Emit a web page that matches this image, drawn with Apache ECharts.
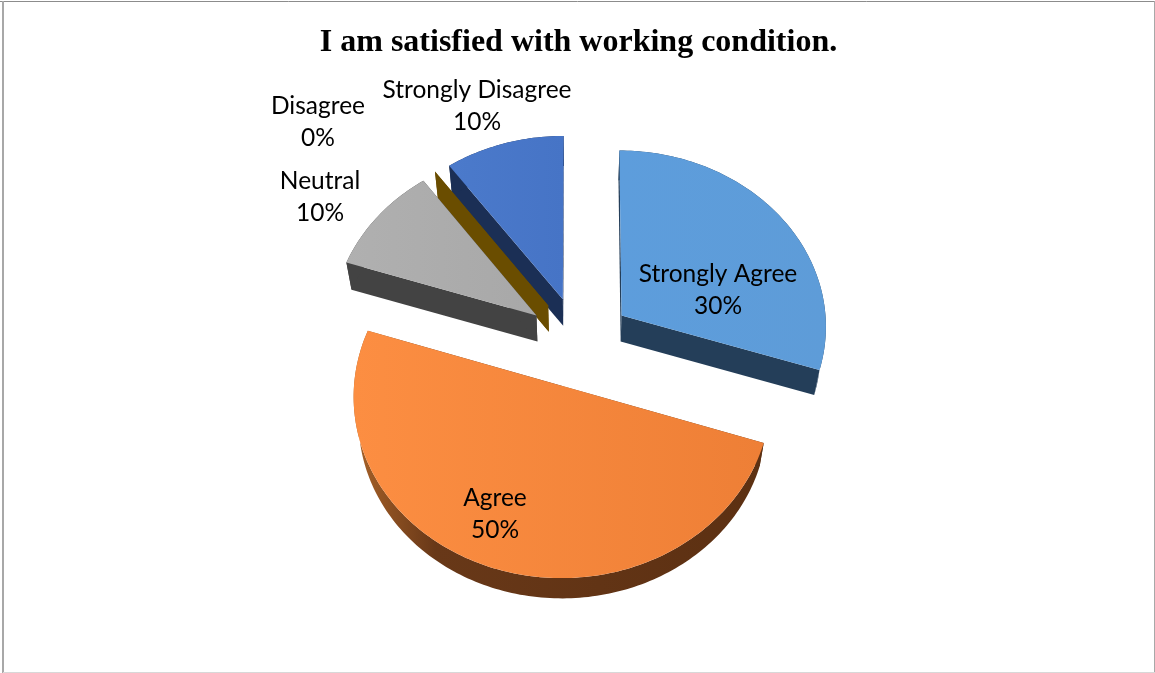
<!DOCTYPE html>
<html>
<head>
<meta charset="utf-8">
<style>html,body{margin:0;padding:0;background:#fff}#c{width:1155px;height:673px}</style>
<script src="https://cdn.jsdelivr.net/npm/echarts@6/dist/echarts.min.js"></script>
</head>
<body>
<div id="c"></div>
<script>
var titleText = 'I am satisfied with working condition.';
var categories = ['Strongly Agree', 'Agree', 'Neutral', 'Disagree', 'Strongly Disagree'];
var values = [30, 50, 10, 0, 10];

// Appearance and projection settings (not data)
var P = {cx: 579, cy: 342, a: 205.6, b: 176.7, k: 0.0545, explode: 0.258, drop: 25.5, lowerScale: 0.978};
var drawRank = [3, 4, 2, 1, 0];
function h(c0, c1) {
  return {type: 'linear', x: 0, y: 0, x2: 1, y2: 0, colorStops: [{offset: 0, color: c0}, {offset: 1, color: c1}]};
}
var tops = [h('#5D9DDC', '#5E9CD8'), h('#FC8E42', '#EE7F36'), h('#B0B0B0', '#A8A8A8'), h('#FFC000', '#FFC000'), h('#4B7ACB', '#4674C6')];
var sides = ['#243E59',
  {type: 'linear', x: 0, y: 0, x2: 1, y2: 0, colorStops: [{offset: 0, color: '#A86228'}, {offset: 0.2, color: '#683818'}, {offset: 1, color: '#5C3012'}]},
  '#434343', '#6A4D00', '#1B2F55'];
var labelAt = [[718, 290], [495, 514], [320, 197], [318, 122], [477, 106]];

var total = values.reduce(function (s, v) { return s + v; }, 0);
function project(X, Y, lower) {
  var w = 1 / (1 - P.k * Y);
  var dx = P.a * X * w, dy = P.b * Y * w;
  if (lower) { dx *= P.lowerScale; dy = dy * P.lowerScale + P.drop; }
  return [P.cx + dx, P.cy + dy];
}
function sliceShapes(i) {
  var before = 0;
  for (var n = 0; n < i; n++) before += values[n];
  var start = before / total * Math.PI * 2;
  var end = (before + values[i]) / total * Math.PI * 2;
  var mid = (start + end) / 2;
  var ox = Math.sin(mid) * P.explode, oy = -Math.cos(mid) * P.explode;
  var steps = Math.max(1, Math.ceil((end - start) / 0.02));
  var arc = [];
  for (var s = 0; s <= steps; s++) {
    var t = start + (end - start) * s / steps;
    arc.push([ox + Math.sin(t), oy - Math.cos(t)]);
  }
  function surface(pts, lower) { return pts.map(function (p) { return project(p[0], p[1], lower); }); }
  var upperArc = surface(arc, false), lowerArc = surface(arc, true);
  var apexU = project(ox, oy, false), apexL = project(ox, oy, true);
  return {
    top: [apexU].concat(upperArc),
    outer: upperArc.concat(lowerArc.slice().reverse()),
    wallA: [apexU, upperArc[0], lowerArc[0], apexL],
    wallB: [apexU, upperArc[steps], lowerArc[steps], apexL]
  };
}
function poly(points, fill, z2) {
  return {type: 'polygon', shape: {points: points}, z2: z2,
    style: {fill: fill, stroke: null}};
}
function renderItem(params, api) {
  var i = api.value(0);
  var g = sliceShapes(i), z = drawRank[i] * 10, side = sides[i];
  var kids = [poly(g.wallA, side, z), poly(g.wallB, side, z), poly(g.outer, side, z + 1)];
  if (values[i] > 0) kids.push(poly(g.top, tops[i], z + 2));
  kids.push({type: 'text', z2: 100, x: labelAt[i][0], y: labelAt[i][1],
    style: {text: categories[i] + '\n' + Math.round(values[i] / total * 100) + '%',
      fill: '#000', font: '24.5px Lato', lineHeight: 32, align: 'center', verticalAlign: 'middle'}});
  return {type: 'group', children: kids};
}
function edge(x1, y1, x2, y2, color, width) {
  return {type: 'line', silent: true, shape: {x1: x1, y1: y1, x2: x2, y2: y2},
    style: {stroke: color, lineWidth: width}};
}
var chart = echarts.init(document.getElementById('c'), null, {renderer: 'canvas'});
chart.setOption({
  animation: false,
  backgroundColor: '#fff',
  title: {text: titleText, left: 573.5, top: 22, textAlign: 'center',
    textStyle: {fontFamily: 'Liberation Serif', fontWeight: 'bold', fontSize: 32, color: '#000'}},
  graphic: [
    edge(0, 1.5, 1155, 1.5, '#8c8c8c', 1),
    edge(3, 1, 3, 673, '#a8a8a8', 2),
    edge(1154.5, 1, 1154.5, 673, '#a8a8a8', 1),
    edge(3, 672.5, 1155, 672.5, '#d8d8d8', 1)
  ],
  series: [{
    type: 'custom',
    coordinateSystem: 'none',
    silent: true,
    renderItem: renderItem,
    data: categories.map(function (c, i) { return {name: c, value: [i, values[i]]}; })
  }]
});
</script>
</body>
</html>
